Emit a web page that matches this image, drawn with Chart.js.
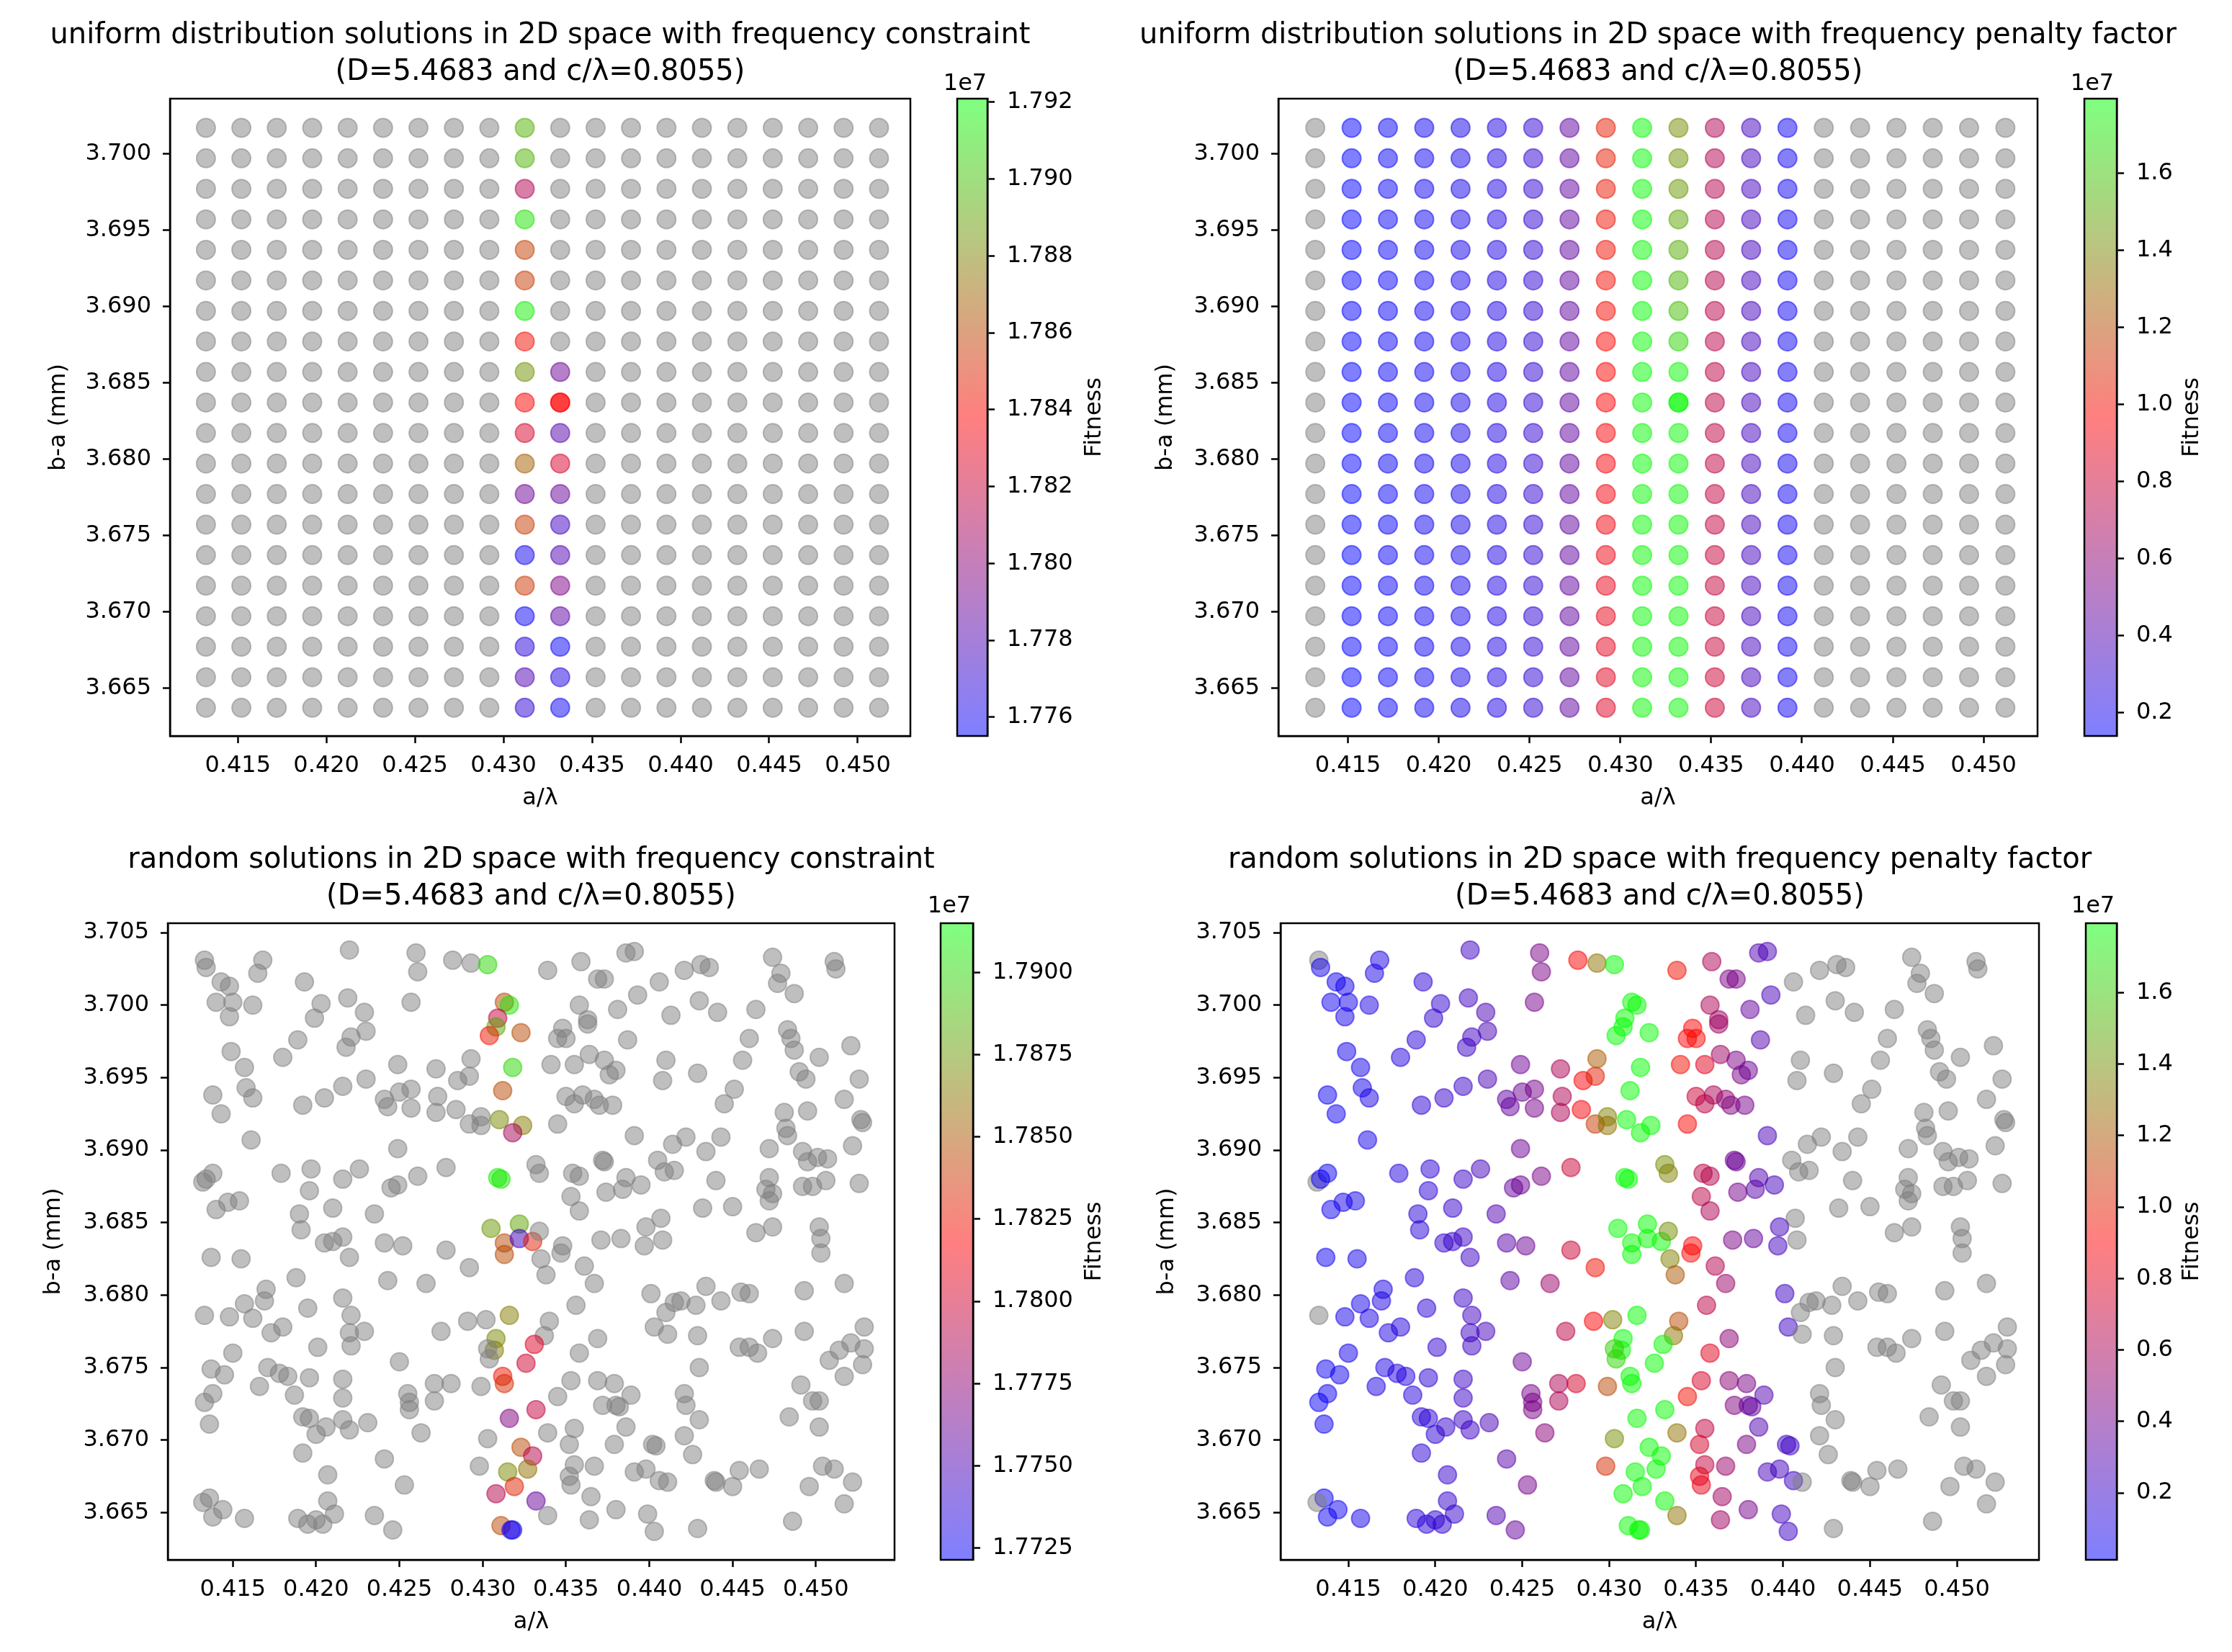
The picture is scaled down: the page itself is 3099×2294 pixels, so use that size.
<!DOCTYPE html>
<html>
<head>
<meta charset="utf-8">
<script src="https://cdn.jsdelivr.net/npm/chart.js@4.4.0/dist/chart.umd.min.js"></script>
<style>
  body { margin: 0; background: #fff; width: 3099px; height: 2294px; position: relative; overflow: hidden; }
  canvas { position: absolute; }
</style>
</head>
<body>
<canvas id="tl"></canvas><canvas id="tlcb"></canvas>
<canvas id="tr"></canvas><canvas id="trcb"></canvas>
<canvas id="bl"></canvas><canvas id="blcb"></canvas>
<canvas id="br"></canvas><canvas id="brcb"></canvas>
<script>
// ---- uniform grid (top row of plots) ----
const gridX = [0.4132, 0.4152, 0.4172, 0.4192, 0.4212, 0.4232, 0.4252, 0.4272, 0.4292, 0.4312,
               0.4332, 0.4352, 0.4372, 0.4392, 0.4412, 0.4432, 0.4452, 0.4472, 0.4492, 0.4512];
const gridY = [3.6637, 3.6657, 3.6677, 3.6697, 3.6717, 3.6737, 3.6757, 3.6777, 3.6797, 3.6817,
               3.6837, 3.6857, 3.6877, 3.6897, 3.6917, 3.6937, 3.6957, 3.6977, 3.6997, 3.7017];

// fitness (x1e7) per column of gridX, values listed bottom -> top; null = infeasible (grey)
const gridConstraint = [
  null, null, null, null, null, null, null, null, null,
  [1.7770, 1.7780, 1.7768, 1.7758, 1.7855, 1.7760, 1.7857, 1.7790, 1.7868, 1.7825,
   1.7838, 1.7885, 1.7842, 1.7915, 1.7857, 1.7858, 1.7912, 1.7812, 1.7896, 1.7895],
  [1.7758, 1.7765, 1.7757, 1.7785, 1.7795, 1.7780, 1.7775, 1.7788, 1.7825, 1.7782,
   1.7838, 1.7790, null, null, null, null, null, null, null, null],
  null, null, null, null, null, null, null, null, null
];
const gridPenalty = [
  null,
  [0.14, 0.14, 0.14, 0.14, 0.14, 0.14, 0.14, 0.14, 0.14, 0.14, 0.14, 0.14, 0.14, 0.14, 0.14, 0.14, 0.14, 0.14, 0.14, 0.14],
  [0.16, 0.16, 0.16, 0.16, 0.16, 0.16, 0.16, 0.16, 0.16, 0.16, 0.16, 0.16, 0.16, 0.16, 0.16, 0.16, 0.16, 0.16, 0.16, 0.16],
  [0.18, 0.18, 0.18, 0.18, 0.18, 0.18, 0.18, 0.18, 0.18, 0.18, 0.18, 0.18, 0.18, 0.18, 0.18, 0.18, 0.18, 0.18, 0.18, 0.18],
  [0.20, 0.20, 0.20, 0.20, 0.20, 0.20, 0.20, 0.20, 0.20, 0.20, 0.20, 0.20, 0.20, 0.20, 0.20, 0.20, 0.20, 0.20, 0.20, 0.20],
  [0.23, 0.23, 0.23, 0.23, 0.23, 0.23, 0.23, 0.23, 0.23, 0.23, 0.23, 0.23, 0.23, 0.23, 0.23, 0.23, 0.23, 0.23, 0.23, 0.23],
  [0.29, 0.29, 0.29, 0.29, 0.29, 0.29, 0.29, 0.29, 0.29, 0.29, 0.29, 0.29, 0.29, 0.29, 0.29, 0.29, 0.29, 0.29, 0.29, 0.29],
  [0.45, 0.45, 0.45, 0.45, 0.45, 0.45, 0.45, 0.45, 0.45, 0.45, 0.45, 0.45, 0.45, 0.45, 0.45, 0.45, 0.45, 0.45, 0.45, 0.45],
  [0.86, 0.87, 0.88, 0.89, 0.90, 0.91, 0.92, 0.93, 0.94, 0.95, 0.96, 0.97, 0.98, 0.99, 1.00, 1.01, 1.02, 1.03, 1.04, 1.05],
  [1.7770, 1.7780, 1.7768, 1.7758, 1.7855, 1.7760, 1.7857, 1.7790, 1.7868, 1.7825,
   1.7838, 1.7885, 1.7842, 1.7915, 1.7857, 1.7858, 1.7912, 1.7812, 1.7896, 1.7895],
  [1.7758, 1.7765, 1.7757, 1.7785, 1.7795, 1.7780, 1.7775, 1.7788, 1.7825, 1.7782,
   1.7838, 1.7790, 1.65, 1.58, 1.55, 1.52, 1.50, 1.46, 1.44, 1.42],
  [0.80, 0.80, 0.79, 0.79, 0.78, 0.78, 0.77, 0.77, 0.76, 0.76, 0.75, 0.75, 0.74, 0.74, 0.73, 0.73, 0.72, 0.72, 0.71, 0.70],
  [0.35, 0.35, 0.35, 0.35, 0.35, 0.35, 0.35, 0.35, 0.35, 0.35, 0.35, 0.35, 0.35, 0.35, 0.35, 0.35, 0.35, 0.35, 0.35, 0.35],
  [0.18, 0.18, 0.18, 0.18, 0.18, 0.18, 0.18, 0.18, 0.18, 0.18, 0.18, 0.18, 0.18, 0.18, 0.18, 0.18, 0.18, 0.18, 0.18, 0.18],
  null, null, null, null, null, null
];
// the marked solution, plotted a second time on top (column, row)
const bestCell = [10, 10];

// ---- random solutions (bottom row of plots) ----
const randX = [
  0.4133, 0.4134, 0.4168, 0.4165, 0.4193, 0.4220, 0.4260, 0.4261, 0.4282, 0.4293,
  0.4303, 0.4339, 0.4143, 0.4148, 0.4140, 0.4150, 0.4162, 0.4148, 0.4203, 0.4199,
  0.4219, 0.4229, 0.4257, 0.4313, 0.4316, 0.4309, 0.4308, 0.4304, 0.4323, 0.4345,
  0.4348, 0.4350, 0.4149, 0.4180, 0.4189, 0.4218, 0.4221, 0.4230, 0.4157, 0.4158,
  0.4162, 0.4138, 0.4143, 0.4230, 0.4216, 0.4205, 0.4192, 0.4249, 0.4241, 0.4243,
  0.4250, 0.4257, 0.4257, 0.4272, 0.4273, 0.4272, 0.4285, 0.4292, 0.4293, 0.4284,
  0.4292, 0.4299, 0.4299, 0.4318, 0.4312, 0.4310, 0.4324, 0.4318, 0.4341, 0.4345,
  0.4161, 0.4249, 0.4132, 0.4134, 0.4138, 0.4179, 0.4197, 0.4196, 0.4216, 0.4226,
  0.4245, 0.4249, 0.4261, 0.4278, 0.4309, 0.4311, 0.4332, 0.4334, 0.4140, 0.4147,
  0.4154, 0.4190, 0.4191, 0.4210, 0.4235, 0.4305, 0.4322, 0.4313, 0.4322, 0.4330,
  0.4334, 0.4313, 0.4335, 0.4338, 0.4348, 0.4347, 0.4241, 0.4252, 0.4205, 0.4210,
  0.4216, 0.4220, 0.4137, 0.4155, 0.4278, 0.4292, 0.4188, 0.4243, 0.4266, 0.4170,
  0.4169, 0.4157, 0.4216, 0.4195, 0.4316, 0.4133, 0.4148, 0.4162, 0.4173, 0.4180,
  0.4221, 0.4220, 0.4229, 0.4221, 0.4201, 0.4150, 0.4275, 0.4291, 0.4302, 0.4340,
  0.4337, 0.4308, 0.4307, 0.4303, 0.4304, 0.4331, 0.4326, 0.4250, 0.4137, 0.4145,
  0.4171, 0.4178, 0.4183, 0.4196, 0.4216, 0.4166, 0.4312, 0.4313, 0.4271, 0.4281,
  0.4271, 0.4299, 0.4255, 0.4256, 0.4256, 0.4345, 0.4138, 0.4133, 0.4187, 0.4216,
  0.4192, 0.4196, 0.4200, 0.4216, 0.4220, 0.4206, 0.4231, 0.4136, 0.4263, 0.4332,
  0.4316, 0.4339, 0.4303, 0.4323, 0.4330, 0.4327, 0.4315, 0.4319, 0.4298, 0.4192,
  0.4241, 0.4207, 0.4253, 0.4308, 0.4332, 0.4136, 0.4132, 0.4138, 0.4144, 0.4157,
  0.4189, 0.4195, 0.4200, 0.4204, 0.4207, 0.4211, 0.4235, 0.4246, 0.4311, 0.4317,
  0.4318, 0.4339,
  0.4359, 0.4386, 0.4391, 0.4369, 0.4373, 0.4393, 0.4406, 0.4421, 0.4431, 0.4436,
  0.4474, 0.4479, 0.4477, 0.4487, 0.4511, 0.4512, 0.4358, 0.4363, 0.4363, 0.4381,
  0.4413, 0.4430, 0.4441, 0.4464, 0.4387, 0.4521, 0.4483, 0.4485, 0.4487, 0.4460,
  0.4456, 0.4410, 0.4429, 0.4408, 0.4502, 0.4490, 0.4494, 0.4526, 0.4355, 0.4364,
  0.4373, 0.4376, 0.4380, 0.4350, 0.4355, 0.4360, 0.4367, 0.4370, 0.4378, 0.4451,
  0.4445, 0.4517, 0.4481, 0.4495, 0.4482, 0.4483, 0.4527, 0.4528, 0.4522, 0.4391,
  0.4422, 0.4414, 0.4443, 0.4472, 0.4492, 0.4495, 0.4501, 0.4507, 0.4405, 0.4409,
  0.4415, 0.4434, 0.4372, 0.4373, 0.4354, 0.4358, 0.4386, 0.4395, 0.4384, 0.4374,
  0.4353, 0.4358, 0.4440, 0.4472, 0.4470, 0.4474, 0.4472, 0.4492, 0.4498, 0.4506,
  0.4526, 0.4432, 0.4450, 0.4407, 0.4398, 0.4408, 0.4397, 0.4371, 0.4383, 0.4464,
  0.4474, 0.4502, 0.4503, 0.4503, 0.4361, 0.4367, 0.4434, 0.4493, 0.4517, 0.4455,
  0.4460, 0.4401, 0.4415, 0.4419, 0.4410, 0.4428, 0.4443, 0.4356, 0.4403, 0.4369,
  0.4411, 0.4429, 0.4493, 0.4474, 0.4358, 0.4454, 0.4460, 0.4465, 0.4529, 0.4521,
  0.4514, 0.4529, 0.4508, 0.4528, 0.4430, 0.4517, 0.4353, 0.4369, 0.4379, 0.4372,
  0.4382, 0.4380, 0.4389, 0.4421, 0.4422, 0.4491, 0.4498, 0.4502, 0.4430, 0.4484,
  0.4502, 0.4355, 0.4386, 0.4352, 0.4379, 0.4402, 0.4404, 0.4421, 0.4426, 0.4355,
  0.4367, 0.4352, 0.4353, 0.4391, 0.4398, 0.4406, 0.4411, 0.4439, 0.4440, 0.4450,
  0.4454, 0.4466, 0.4504, 0.4511, 0.4496, 0.4522, 0.4517, 0.4365, 0.4380, 0.4399,
  0.4403, 0.4364, 0.4429, 0.4486
];
const randY = [
  3.7031, 3.7026, 3.7031, 3.7022, 3.7016, 3.7038, 3.7036, 3.7023, 3.7031, 3.7029,
  3.7028, 3.7024, 3.7016, 3.7013, 3.7002, 3.7002, 3.7000, 3.6992, 3.7001, 3.6991,
  3.7005, 3.6995, 3.7002, 3.7002, 3.7000, 3.6991, 3.6985, 3.6979, 3.6981, 3.6977,
  3.6984, 3.6977, 3.6968, 3.6964, 3.6976, 3.6971, 3.6978, 3.6982, 3.6957, 3.6943,
  3.6936, 3.6938, 3.6925, 3.6949, 3.6944, 3.6936, 3.6931, 3.6959, 3.6935, 3.6930,
  3.6940, 3.6942, 3.6929, 3.6956, 3.6937, 3.6926, 3.6948, 3.6951, 3.6963, 3.6928,
  3.6918, 3.6923, 3.6917, 3.6957, 3.6941, 3.6921, 3.6917, 3.6912, 3.6959, 3.6918,
  3.6907, 3.6901, 3.6878, 3.6880, 3.6884, 3.6884, 3.6887, 3.6872, 3.6880, 3.6887,
  3.6874, 3.6876, 3.6882, 3.6888, 3.6881, 3.6880, 3.6890, 3.6884, 3.6859, 3.6864,
  3.6865, 3.6856, 3.6845, 3.6860, 3.6856, 3.6846, 3.6849, 3.6836, 3.6839, 3.6837,
  3.6844, 3.6828, 3.6825, 3.6814, 3.6834, 3.6829, 3.6836, 3.6834, 3.6836, 3.6837,
  3.6840, 3.6826, 3.6826, 3.6825, 3.6831, 3.6819, 3.6812, 3.6810, 3.6808, 3.6804,
  3.6796, 3.6794, 3.6798, 3.6791, 3.6786, 3.6786, 3.6785, 3.6784, 3.6774, 3.6778,
  3.6786, 3.6774, 3.6775, 3.6765, 3.6764, 3.6760, 3.6775, 3.6782, 3.6783, 3.6782,
  3.6772, 3.6770, 3.6762, 3.6763, 3.6756, 3.6766, 3.6753, 3.6754, 3.6749, 3.6745,
  3.6750, 3.6746, 3.6744, 3.6743, 3.6742, 3.6737, 3.6744, 3.6739, 3.6739, 3.6739,
  3.6727, 3.6737, 3.6732, 3.6726, 3.6721, 3.6730, 3.6732, 3.6726, 3.6731, 3.6729,
  3.6716, 3.6715, 3.6704, 3.6714, 3.6707, 3.6709, 3.6712, 3.6711, 3.6705, 3.6721,
  3.6715, 3.6705, 3.6701, 3.6695, 3.6689, 3.6680, 3.6678, 3.6668, 3.6682, 3.6691,
  3.6687, 3.6676, 3.6669, 3.6663, 3.6658, 3.6660, 3.6657, 3.6647, 3.6652, 3.6646,
  3.6646, 3.6642, 3.6645, 3.6642, 3.6658, 3.6649, 3.6648, 3.6638, 3.6641, 3.6638,
  3.6638, 3.6648,
  3.7030, 3.7036, 3.7037, 3.7018, 3.7018, 3.7007, 3.7016, 3.7024, 3.7028, 3.7026,
  3.7033, 3.7022, 3.7015, 3.7008, 3.7030, 3.7025, 3.7000, 3.6990, 3.6987, 3.6997,
  3.6993, 3.7003, 3.6995, 3.6997, 3.6976, 3.6972, 3.6983, 3.6977, 3.6969, 3.6977,
  3.6962, 3.6962, 3.6953, 3.6948, 3.6964, 3.6954, 3.6949, 3.6949, 3.6959, 3.6966,
  3.6962, 3.6952, 3.6955, 3.6937, 3.6932, 3.6938, 3.6935, 3.6931, 3.6931, 3.6942,
  3.6932, 3.6935, 3.6926, 3.6927, 3.6915, 3.6910, 3.6921, 3.6919, 3.6903, 3.6910,
  3.6909, 3.6904, 3.6909, 3.6901, 3.6899, 3.6892, 3.6895, 3.6894, 3.6893, 3.6885,
  3.6886, 3.6899, 3.6893, 3.6892, 3.6884, 3.6882, 3.6881, 3.6876, 3.6873, 3.6871,
  3.6868, 3.6858, 3.6879, 3.6881, 3.6873, 3.6870, 3.6865, 3.6875, 3.6875, 3.6879,
  3.6877, 3.6860, 3.6861, 3.6853, 3.6847, 3.6838, 3.6834, 3.6838, 3.6839, 3.6843,
  3.6847, 3.6847, 3.6839, 3.6829, 3.6820, 3.6808, 3.6806, 3.6803, 3.6808, 3.6802,
  3.6801, 3.6801, 3.6795, 3.6796, 3.6788, 3.6793, 3.6796, 3.6793, 3.6778, 3.6770,
  3.6773, 3.6772, 3.6775, 3.6770, 3.6760, 3.6764, 3.6764, 3.6760, 3.6778, 3.6767,
  3.6762, 3.6763, 3.6755, 3.6752, 3.6750, 3.6744, 3.6741, 3.6741, 3.6739, 3.6724,
  3.6723, 3.6724, 3.6731, 3.6732, 3.6724, 3.6738, 3.6727, 3.6727, 3.6714, 3.6716,
  3.6709, 3.6708, 3.6709, 3.6697, 3.6697, 3.6697, 3.6696, 3.6703, 3.6690, 3.6683,
  3.6682, 3.6675, 3.6669, 3.6678, 3.6680, 3.6672, 3.6671, 3.6672, 3.6671, 3.6668,
  3.6679, 3.6680, 3.6682, 3.6680, 3.6668, 3.6671, 3.6656, 3.6661, 3.6652, 3.6649,
  3.6637, 3.6645, 3.6639, 3.6644
];
// fitness with frequency penalty factor (x1e7); null = grey
const randPenalty = [
  null, 0.08, 0.10, 0.10, 0.16, 0.23, 0.44, 0.44, 0.90, 1.30,
  1.790, 0.95, 0.06, 0.08, 0.06, 0.08, 0.10, 0.08, 0.18, 0.18,
  0.23, 0.27, 0.42, 1.7845, 1.7905, 1.7795, 1.788, 1.7825, 1.7845, 0.90,
  0.90, 0.92, 0.08, 0.13, 0.15, 0.21, 0.23, 0.27, 0.08, 0.08,
  0.10, 0.05, 0.06, 0.27, 0.21, 0.19, 0.16, 0.39, 0.34, 0.36,
  0.39, 0.42, 0.42, 0.61, 0.61, 0.61, 0.88, 1.00, 1.20, 0.88,
  1.10, 1.35, 1.30, 1.790, 1.7845, 1.787, 1.7865, 1.7785, 0.95, 0.92,
  0.08, 0.39, null, 0.05, 0.05, 0.13, 0.16, 0.16, 0.21, 0.25,
  0.36, 0.39, 0.44, 0.72, 1.791, 1.7905, 1.40, 1.35, 0.06, 0.08,
  0.08, 0.15, 0.15, 0.19, 0.29, 1.7875, 1.788, 1.7845, 1.7745, 1.783,
  1.40, 1.7845, 1.35, 1.20, 0.90, 0.92, 0.32, 0.39, 0.19, 0.20,
  0.21, 0.22, 0.05, 0.08, 0.72, 0.95, 0.15, 0.34, 0.55, 0.10,
  0.10, 0.08, 0.21, 0.16, 1.7865, null, 0.08, 0.10, 0.11, 0.13,
  0.23, 0.22, 0.25, 0.22, 0.18, 0.08, 0.67, 0.90, 1.35, 1.15,
  1.30, 1.787, 1.7865, 1.62, 1.65, 1.7805, 1.780, 0.39, 0.05, 0.06,
  0.10, 0.12, 0.13, 0.16, 0.21, 0.10, 1.7825, 1.7835, 0.61, 0.76,
  0.61, 1.15, 0.42, 0.44, 0.44, 0.95, 0.05, 0.04, 0.14, 0.21,
  0.16, 0.16, 0.16, 0.21, 0.22, 0.19, 0.27, 0.05, 0.49, 1.7795,
  1.777, 1.30, 1.40, 1.7845, 1.779, 1.786, 1.787, 1.783, 1.05, 0.16,
  0.32, 0.19, 0.42, 1.779, 1.776, 0.05, null, 0.05, 0.06, 0.08,
  0.15, 0.16, 0.16, 0.18, 0.19, 0.19, 0.29, 0.36, 1.7845, 1.7735,
  1.7728, 1.30,
  0.61, 0.30, 0.26, 0.44, 0.44, 0.26, null, null, null, null,
  null, null, null, null, null, null, 0.61, 0.57, 0.57, 0.36,
  null, null, null, null, 0.30, null, null, null, null, null,
  null, null, null, null, null, null, null, null, 0.80, 0.57,
  0.44, 0.44, 0.39, 0.72, 0.67, 0.61, 0.52, 0.46, 0.42, null,
  null, null, null, null, null, null, null, null, null, 0.26,
  null, null, null, null, null, null, null, null, null, null,
  null, null, 0.39, 0.39, 0.67, 0.64, 0.30, 0.25, 0.32, 0.42,
  0.67, 0.62, null, null, null, null, null, null, null, null,
  null, null, null, null, 0.24, null, 0.24, 0.44, 0.36, null,
  null, null, null, null, 0.64, 0.55, null, null, null, null,
  null, 0.22, null, null, null, null, null, 0.67, 0.22, 0.49,
  null, null, null, null, 0.80, null, null, null, null, null,
  null, null, null, null, null, null, 0.76, 0.49, 0.44, 0.46,
  0.36, 0.36, 0.30, null, null, null, null, null, null, null,
  null, 0.69, 0.30, 0.76, 0.44, 0.22, 0.22, null, null, 0.69,
  0.55, 0.82, 0.82, 0.26, 0.24, 0.22, null, null, null, null,
  null, null, null, null, null, null, null, 0.57, 0.42, 0.24,
  0.22, 0.57, null, null
];
// fitness with frequency constraint (x1e7); null = infeasible (grey).
// Points past the end of this list are all infeasible.
const randConstraint = [
  null, null, null, null, null, null, null, null, null, null,
  1.790, null, null, null, null, null, null, null, null, null,
  null, null, null, 1.7845, 1.7905, 1.7795, 1.788, 1.7825, 1.7845, null,
  null, null, null, null, null, null, null, null, null, null,
  null, null, null, null, null, null, null, null, null, null,
  null, null, null, null, null, null, null, null, null, null,
  null, null, null, 1.790, 1.7845, 1.787, 1.7865, 1.7785, null, null,
  null, null, null, null, null, null, null, null, null, null,
  null, null, null, null, 1.791, 1.7905, null, null, null, null,
  null, null, null, null, null, 1.7875, 1.788, 1.7845, 1.7745, 1.783,
  null, 1.7845, null, null, null, null, null, null, null, null,
  null, null, null, null, null, null, null, null, null, null,
  null, null, null, null, 1.7865, null, null, null, null, null,
  null, null, null, null, null, null, null, null, null, null,
  null, 1.787, 1.7865, null, null, 1.7805, 1.780, null, null, null,
  null, null, null, null, null, null, 1.7825, 1.7835, null, null,
  null, null, null, null, null, null, null, null, null, null,
  null, null, null, null, null, null, null, null, null, 1.7795,
  1.777, null, null, 1.7845, 1.779, 1.786, 1.787, 1.783, null, null,
  null, null, null, 1.779, 1.776, null, null, null, null, null,
  null, null, null, null, null, null, null, null, 1.7845, 1.7735,
  1.7728, null
];

// colour bar limits (x1e7) and axis limits
const cbUniformConstraint = [1.77551, 1.79209];
const cbUniformPenalty = [0.1396, 1.7940];
const cbRandomConstraint = [1.77214, 1.79150];
const cbRandomPenalty = [0.0126, 1.7943];
const xLimUniform = [0.41117, 0.45297], yLimUniform = [3.66185, 3.70361];
const xLimRandom = [0.41110, 0.45472], yLimRandom = [3.66174, 3.70565];

const subtitle = '(D=5.4683 and c/\u03bb=0.8055)';

// ---------------------------------------------------------------
Chart.defaults.font.family = "'DejaVu Sans', sans-serif";
Chart.defaults.color = '#000';

const TICK = 32, TITLE = 40, TITLE_GAP = 51;
const STOPS = [[0, 0, 255], [255, 0, 0], [0, 255, 0]];   // blue -> red -> lime

function fitColour(v, lim) {
  if (v === null || v === undefined) return 'rgba(128,128,128,0.5)';
  let t = (v - lim[0]) / (lim[1] - lim[0]);
  t = Math.max(0, Math.min(1, t)) * 2;
  const i = t < 1 ? 0 : 1, u = t - i;
  const a = STOPS[i], b = STOPS[i + 1];
  const c = [0, 1, 2].map(k => Math.round(a[k] + (b[k] - a[k]) * u));
  return 'rgba(' + c[0] + ',' + c[1] + ',' + c[2] + ',0.5)';
}

function place(id, g) {
  const c = document.getElementById(id);
  c.width = g.w; c.height = g.h;
  c.style.left = g.left + 'px'; c.style.top = g.top + 'px';
  c.style.width = g.w + 'px'; c.style.height = g.h + 'px';
  return c;
}

const frame = {
  id: 'frame',
  afterDraw(chart) {
    const { ctx, chartArea: a } = chart;
    ctx.save();
    ctx.strokeStyle = '#000';
    ctx.lineWidth = 2.5;
    ctx.strokeRect(a.left, a.top, a.right - a.left, a.bottom - a.top);
    ctx.restore();
  }
};

// two-line title centred over the plot area (may run wider than the plot, as in matplotlib)
const panelTitle = {
  id: 'panelTitle',
  afterDraw(chart, args, o) {
    const { ctx, chartArea: a } = chart;
    ctx.save();
    ctx.fillStyle = '#000';
    ctx.font = TITLE + "px 'DejaVu Sans'";
    ctx.textAlign = 'center';
    ctx.textBaseline = 'middle';
    o.lines.forEach((t, i) => ctx.fillText(t, (a.left + a.right) / 2, o.y + i * TITLE_GAP));
    ctx.restore();
  }
};

const cbText = {
  id: 'cbText',
  afterDraw(chart, args, o) {
    const { ctx, chartArea: a } = chart;
    ctx.save();
    ctx.fillStyle = '#000';
    ctx.font = TICK + "px 'DejaVu Sans'";
    ctx.textAlign = 'center';
    ctx.textBaseline = 'middle';
    ctx.fillText('1e7', o.offX, o.offY);
    ctx.translate(o.labX, (a.top + a.bottom) / 2);
    ctx.rotate(-Math.PI / 2);
    ctx.fillText('Fitness', 0, 0);
    ctx.restore();
  }
};

function axisStyle() {
  return {
    grid: { drawOnChartArea: false, drawTicks: true, tickLength: 10, tickWidth: 2.5, tickColor: '#000' },
    border: { display: true, color: '#000', width: 2.5 }
  };
}

function scatterPanel(id, g, title, xLim, yLim, datasets) {
  new Chart(place(id, g), {
    type: 'scatter',
    data: { datasets },
    options: {
      responsive: false, devicePixelRatio: 1, animation: false,
      layout: { padding: { left: 0, right: g.left + g.w - g.R, top: g.T - g.top, bottom: 0 } },
      plugins: {
        legend: { display: false }, tooltip: { enabled: false },
        panelTitle: { lines: title, y: g.titleY - g.top }
      },
      scales: {
        x: Object.assign(axisStyle(), {
          type: 'linear', min: xLim[0], max: xLim[1],
          ticks: { stepSize: 0.005, includeBounds: false, autoSkip: false, maxRotation: 0,
                   padding: 12, font: { size: TICK }, callback: v => v.toFixed(3) },
          title: { display: true, text: 'a/\u03bb', font: { size: TICK }, padding: { top: 0, bottom: 22 } },
          afterFit: s => { s.height = g.top + g.h - g.B; }
        }),
        y: Object.assign(axisStyle(), {
          type: 'linear', min: yLim[0], max: yLim[1],
          ticks: { stepSize: 0.005, includeBounds: false, autoSkip: false,
                   padding: 16, font: { size: TICK }, callback: v => v.toFixed(3) },
          title: { display: true, text: 'b-a (mm)', font: { size: TICK }, padding: { top: g.ylabX - g.left - TICK * 0.6 } },
          afterFit: s => { s.width = g.L - g.left; }
        })
      }
    },
    plugins: [frame, panelTitle]
  });
}

function colourBar(id, g, lim, step, dec) {
  new Chart(place(id, g), {
    type: 'bar',
    data: {
      labels: [''],
      datasets: [{
        data: [[lim[0], lim[1]]],
        barPercentage: 1, categoryPercentage: 1, borderWidth: 0,
        backgroundColor: ctx => {
          const a = ctx.chart.chartArea;
          if (!a) return 'transparent';
          const gr = ctx.chart.ctx.createLinearGradient(0, a.bottom, 0, a.top);
          gr.addColorStop(0, fitColour(lim[0], lim));
          gr.addColorStop(0.5, fitColour((lim[0] + lim[1]) / 2, lim));
          gr.addColorStop(1, fitColour(lim[1], lim));
          return gr;
        }
      }]
    },
    options: {
      responsive: false, devicePixelRatio: 1, animation: false,
      layout: { padding: { left: g.barL - g.left, right: 0, top: g.T - g.top, bottom: g.top + g.h - g.B } },
      plugins: {
        legend: { display: false }, tooltip: { enabled: false },
        cbText: { offX: g.offX - g.left, offY: g.offY - g.top, labX: g.labX - g.left }
      },
      scales: {
        x: { display: false },
        y: Object.assign(axisStyle(), {
          position: 'right', min: lim[0], max: lim[1],
          ticks: { stepSize: step, includeBounds: false, autoSkip: false,
                   padding: 17, font: { size: TICK }, callback: v => v.toFixed(dec) },
          afterFit: s => { s.width = g.left + g.w - g.barR; }
        })
      }
    },
    plugins: [frame, cbText]
  });
}

function gridDatasets(values, lim) {
  const pts = [], cols = [];
  gridX.forEach((x, c) => {
    gridY.forEach((y, r) => {
      pts.push({ x, y });
      cols.push(fitColour(values[c] ? values[c][r] : null, lim));
    });
  });
  const [bc, br] = bestCell;
  const bestCol = fitColour(values[bc][br], lim);
  return [
    { data: pts, pointRadius: 13, pointBorderWidth: 2, pointBackgroundColor: cols, pointBorderColor: cols, showLine: false },
    { data: [{ x: gridX[bc], y: gridY[br] }], pointRadius: 13, pointBorderWidth: 2,
      pointBackgroundColor: bestCol, pointBorderColor: bestCol, showLine: false }
  ];
}

function randomDatasets(values, lim) {
  const pts = randX.map((x, i) => ({ x, y: randY[i] }));
  const cols = randX.map((x, i) => fitColour(values[i], lim));
  return [{ data: pts, pointRadius: 12.5, pointBorderWidth: 2, pointBackgroundColor: cols, pointBorderColor: cols, showLine: false }];
}

// ---- layout (page pixels) ----
const gTL = { left: 0, top: 0, w: 1550, h: 1150, L: 236, R: 1264, T: 137, B: 1022, titleY: 50, ylabX: 82 };
const gTR = { left: 1550, top: 0, w: 1549, h: 1150, L: 1775, R: 2829, T: 137, B: 1022, titleY: 50, ylabX: 1619 };
const gBL = { left: 0, top: 1150, w: 1550, h: 1144, L: 233, R: 1242, T: 1282, B: 2166, titleY: 1195, ylabX: 75 };
const gBR = { left: 1550, top: 1150, w: 1549, h: 1144, L: 1778, R: 2831, T: 1282, B: 2166, titleY: 1195, ylabX: 1621 };

const cTL = { left: 1300, top: 0, w: 259, h: 1150, barL: 1329, barR: 1371, T: 137, B: 1022, offX: 1340, offY: 117, labX: 1520 };
const cTR = { left: 2865, top: 0, w: 234, h: 1150, barL: 2894, barR: 2939, T: 137, B: 1022, offX: 2905, offY: 117, labX: 3044 };
const cBL = { left: 1280, top: 1150, w: 270, h: 1144, barL: 1306, barR: 1351, T: 1282, B: 2166, offX: 1318, offY: 1259, labX: 1520 };
const cBR = { left: 2865, top: 1150, w: 234, h: 1144, barL: 2896, barR: 2939, T: 1282, B: 2166, offX: 2906, offY: 1259, labX: 3044 };

scatterPanel('tl', gTL, ['uniform distribution solutions in 2D space with frequency constraint', subtitle],
  xLimUniform, yLimUniform, gridDatasets(gridConstraint, cbUniformConstraint));
colourBar('tlcb', cTL, cbUniformConstraint, 0.002, 3);

scatterPanel('tr', gTR, ['uniform distribution solutions in 2D space with frequency penalty factor', subtitle],
  xLimUniform, yLimUniform, gridDatasets(gridPenalty, cbUniformPenalty));
colourBar('trcb', cTR, cbUniformPenalty, 0.2, 1);

scatterPanel('bl', gBL, ['random solutions in 2D space with frequency constraint', subtitle],
  xLimRandom, yLimRandom, randomDatasets(randConstraint, cbRandomConstraint));
colourBar('blcb', cBL, cbRandomConstraint, 0.0025, 4);

scatterPanel('br', gBR, ['random solutions in 2D space with frequency penalty factor', subtitle],
  xLimRandom, yLimRandom, randomDatasets(randPenalty, cbRandomPenalty));
colourBar('brcb', cBR, cbRandomPenalty, 0.2, 1);
</script>
</body>
</html>
